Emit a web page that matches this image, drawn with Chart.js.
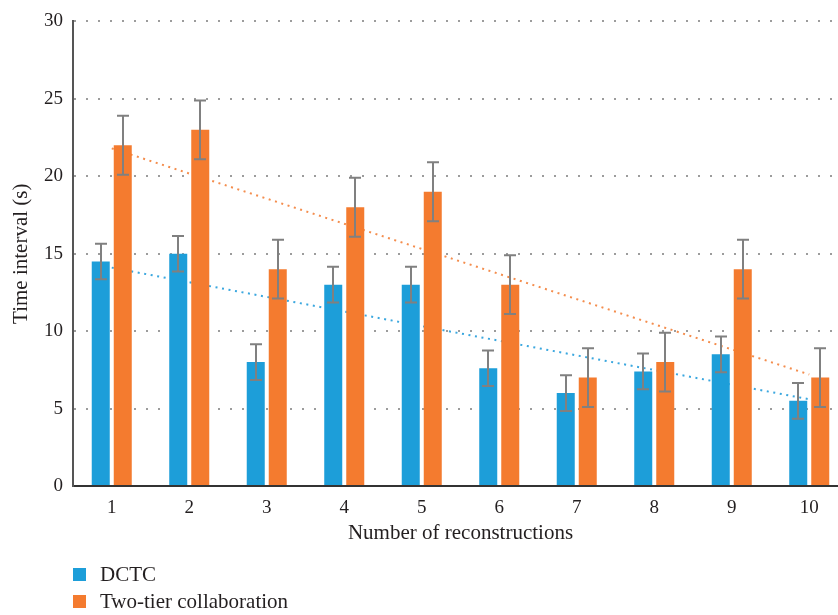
<!DOCTYPE html>
<html>
<head>
<meta charset="utf-8">
<script src="https://cdn.jsdelivr.net/npm/chart.js@4.4.1/dist/chart.umd.min.js"></script>
<style>
  html, body { margin: 0; padding: 0; background: #fff; overflow: hidden; }
  #wrap { width: 838px; height: 615px; overflow: hidden; position: relative; }
  canvas { display: block; }
</style>
</head>
<body>
<div id="wrap"><canvas id="chart" width="850" height="615"></canvas></div>
<script>
// Reconstruction rounds on the x axis
const categories = ['1', '2', '3', '4', '5', '6', '7', '8', '9', '10'];

// Mean time interval (s) per reconstruction
const dctc    = [14.5, 15, 8, 13, 13, 7.6, 6, 7.4, 8.5, 5.5];
const twoTier = [22, 23, 14, 18, 19, 13, 7, 8, 14, 7];

// Error bar half-lengths (s)
const dctcErr    = [1.15, 1.15, 1.15, 1.15, 1.15, 1.15, 1.15, 1.15, 1.15, 1.15];
const twoTierErr = [1.9, 1.9, 1.9, 1.9, 1.9, 1.9, 1.9, 1.9, 1.9, 1.9];

// Linear trend lines: end points at the first and last reconstruction
const trendX       = ['1', '10'];
const dctcTrend    = [14.1, 5.6];
const twoTierTrend = [21.8, 7.2];

// Y axis range
const yMin = 0, yMax = 30, yStep = 5;

const seriesNames = ['DCTC', 'Two-tier collaboration'];
const BLUE = '#1d9ed9';
const ORANGE = '#f47b2f';
const TEXT = '#231f20';
const FONT = "'Liberation Serif', 'Times New Roman', serif";

Chart.defaults.font.family = FONT;
Chart.defaults.color = TEXT;

// Vertical error bars with caps on top of each bar
const errorBars = {
  id: 'errorBars',
  afterDatasetsDraw(chart) {
    const { ctx } = chart;
    const y = chart.scales.y;
    ctx.save();
    ctx.strokeStyle = '#808080';
    ctx.lineWidth = 2;
    chart.data.datasets.forEach((ds, i) => {
      if (!ds.errors) return;
      const meta = chart.getDatasetMeta(i);
      meta.data.forEach((bar, j) => {
        const v = ds.data[j], e = ds.errors[j];
        const x = Math.round(bar.x);
        const yt = y.getPixelForValue(v + e);
        const yb = y.getPixelForValue(v - e);
        ctx.beginPath();
        ctx.moveTo(x, yt); ctx.lineTo(x, yb);
        ctx.moveTo(x - 6, yt); ctx.lineTo(x + 6, yt);
        ctx.moveTo(x - 6, yb); ctx.lineTo(x + 6, yb);
        ctx.stroke();
      });
    });
    ctx.restore();
  }
};

// Stacked legend under the plot, one series per row
const stackedLegend = {
  id: 'stackedLegend',
  afterDraw(chart) {
    const { ctx } = chart;
    const items = chart.data.datasets.filter(ds => ds.type === 'bar');
    ctx.save();
    ctx.font = '21px ' + FONT;
    ctx.textBaseline = 'middle';
    ctx.textAlign = 'left';
    items.forEach((ds, i) => {
      const cy = 575 + i * 27;
      ctx.fillStyle = ds.backgroundColor;
      ctx.fillRect(73, cy - 7, 13, 13);
      ctx.fillStyle = TEXT;
      ctx.fillText(ds.label, 100, cy);
    });
    ctx.restore();
  }
};

new Chart(document.getElementById('chart'), {
  type: 'bar',
  data: {
    labels: categories,
    datasets: [
      {
        type: 'bar', label: seriesNames[0], data: dctc, errors: dctcErr,
        backgroundColor: BLUE, borderWidth: 0,
        categoryPercentage: 0.568, barPercentage: 0.818, order: 1
      },
      {
        type: 'bar', label: seriesNames[1], data: twoTier, errors: twoTierErr,
        backgroundColor: ORANGE, borderWidth: 0,
        categoryPercentage: 0.568, barPercentage: 0.818, order: 1
      },
      {
        type: 'line', label: seriesNames[0] + ' trend',
        data: trendX.map((x, i) => ({ x, y: dctcTrend[i] })),
        borderColor: '#3aa7df', borderWidth: 2, borderDash: [2, 4.6],
        pointRadius: 0, fill: false, tension: 0, order: 3
      },
      {
        type: 'line', label: seriesNames[1] + ' trend',
        data: trendX.map((x, i) => ({ x, y: twoTierTrend[i] })),
        borderColor: '#f48d4d', borderWidth: 2, borderDash: [2, 4.6],
        pointRadius: 0, fill: false, tension: 0, order: 3
      }
    ]
  },
  options: {
    responsive: false,
    animation: false,
    events: [],
    layout: { padding: { top: 14, right: 2, bottom: 67, left: 0 } },
    plugins: {
      legend: { display: false },
      tooltip: { enabled: false }
    },
    scales: {
      x: {
        type: 'category',
        offset: true,
        grid: { display: false, drawTicks: false },
        border: { display: true, color: '#333333', width: 2 },
        ticks: { padding: 11, font: { size: 19 }, color: TEXT },
        title: {
          display: true, text: 'Number of reconstructions',
          font: { size: 21 }, color: TEXT, padding: { top: 4, bottom: 2 }
        },
        afterFit(scale) { scale.height = 62; }
      },
      y: {
        min: yMin, max: yMax,
        ticks: { stepSize: yStep, padding: 10, font: { size: 19 }, color: TEXT },
        grid: {
          drawTicks: false, lineWidth: 2,
          color: c => (c.tick && c.tick.value === 0) ? 'rgba(0,0,0,0)' : '#9c9c9c'
        },
        border: { display: true, color: '#555555', width: 2, dash: [2, 10], dashOffset: 0 },
        title: {
          display: true, text: 'Time interval (s)',
          font: { size: 21 }, color: TEXT, padding: { top: 9, bottom: 0 }
        },
        afterFit(scale) { scale.width = 73; }
      }
    }
  },
  plugins: [errorBars, stackedLegend]
});
</script>
</body>
</html>
